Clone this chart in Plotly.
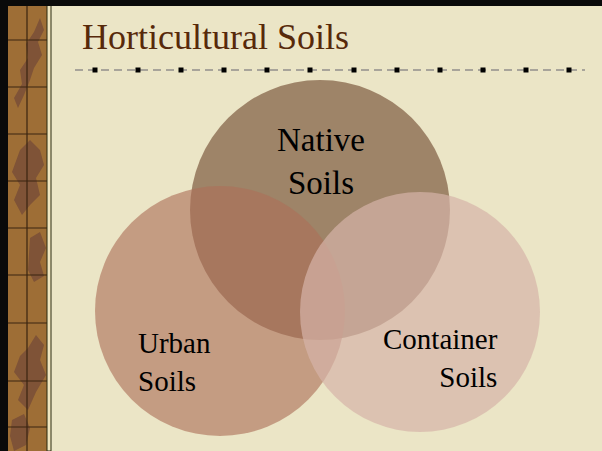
import plotly.graph_objects as go

# ---- data ----
title_text = "Horticultural Soils"
set_names = ["Native<br>Soils", "Urban<br>Soils", "Container<br>Soils"]
circle_cx = [320, 220, 420]
circle_cy = [210, 311, 312]
circle_r = [130, 125, 120]
divider_marks = [95, 138, 181, 224, 267, 310, 354, 397, 440, 483, 526, 569]

W, H = 602, 451
SERIF = "Liberation Serif, Times New Roman, serif"
fig = go.Figure()

shapes = []
# background
shapes.append(dict(type="rect", x0=0, x1=W, y0=0, y1=H, fillcolor="#ebe5c6", line_width=0, layer="below"))
# left decorative strip
shapes.append(dict(type="rect", x0=0, x1=8, y0=0, y1=H, fillcolor="#0a0a0a", line_width=0))
shapes.append(dict(type="rect", x0=8, x1=47, y0=0, y1=H, fillcolor="#9e6e36", line_width=0))
# leaf-like dark silhouettes
leaf_paths = [
    "M 40 18 L 44 30 L 38 42 L 42 55 L 34 68 L 30 80 L 24 95 L 18 108 L 14 98 L 22 84 L 20 70 L 28 58 L 26 44 L 34 32 Z",
    "M 20 150 L 30 140 L 40 150 L 44 165 L 36 178 L 40 195 L 30 205 L 22 215 L 14 200 L 20 185 L 12 172 Z",
    "M 30 238 L 40 232 L 46 248 L 40 262 L 44 276 L 34 282 L 28 270 Z",
    "M 36 335 L 44 345 L 40 360 L 46 375 L 36 392 L 28 410 L 18 400 L 24 385 L 14 372 L 20 356 L 28 348 Z",
    "M 12 420 L 24 414 L 30 428 L 26 445 L 14 451 L 10 436 Z",
]
for p in leaf_paths:
    shapes.append(dict(type="path", path=p, fillcolor="rgba(95,55,55,0.5)", line_width=0))
for yy in [40, 87, 134, 181, 228, 275, 323, 381, 427]:
    shapes.append(dict(type="line", x0=8, x1=47, y0=yy, y1=yy, line=dict(color="#3a2410", width=1.2)))
shapes.append(dict(type="line", x0=27, x1=27, y0=6, y1=H, line=dict(color="#3a2410", width=1.2)))
shapes.append(dict(type="rect", x0=47, x1=51, y0=0, y1=H, fillcolor="#f0e6c0", line=dict(color="#2a2a10", width=1)))
# top border
shapes.append(dict(type="rect", x0=0, x1=W, y0=0, y1=6, fillcolor="#0a0a0a", line_width=0))

# circles
fills = ["rgba(107,67,42,0.6)", "rgba(172,112,88,0.62)", "rgba(213,180,168,0.7)"]
for cx, cy, r, fc in zip(circle_cx, circle_cy, circle_r, fills):
    shapes.append(dict(type="circle", xref="x", yref="y", x0=cx - r, x1=cx + r, y0=cy - r, y1=cy + r,
                       fillcolor=fc, line_width=0))

# divider line
fig.add_trace(go.Scatter(x=[75, 585], y=[70, 70], mode="lines",
                         line=dict(color="#a8a49a", width=2, dash="8px,5px"), hoverinfo="skip", showlegend=False))
fig.add_trace(go.Scatter(x=divider_marks, y=[70] * len(divider_marks), mode="markers",
                         marker=dict(symbol="square", size=5, color="#000000"), hoverinfo="skip", showlegend=False))

ann = []
ann.append(dict(x=80, y=37, text=title_text, showarrow=False, xanchor="left", yanchor="middle",
                font=dict(family=SERIF, size=36, color="#57290a")))
ann.append(dict(x=321, y=161, text=set_names[0], showarrow=False, xanchor="center", yanchor="middle",
                align="center", font=dict(family=SERIF, size=33, color="#000000")))
ann.append(dict(x=136, y=362, text=set_names[1], showarrow=False, xanchor="left", yanchor="middle",
                align="left", font=dict(family=SERIF, size=29, color="#000000")))
ann.append(dict(x=500, y=358, text=set_names[2], showarrow=False, xanchor="right", yanchor="middle",
                align="right", font=dict(family=SERIF, size=29, color="#000000")))

fig.update_layout(
    width=W, height=H, margin=dict(l=0, r=0, t=0, b=0),
    paper_bgcolor="#ebe5c6", plot_bgcolor="#ebe5c6",
    xaxis=dict(range=[0, W], visible=False, fixedrange=True),
    yaxis=dict(range=[H, 0], visible=False, fixedrange=True),
    shapes=shapes, annotations=ann, showlegend=False,
)
fig.write_html("out.html", config={"displayModeBar": False},
               post_script="document.body.style.margin='0';document.body.style.overflow='hidden';")
